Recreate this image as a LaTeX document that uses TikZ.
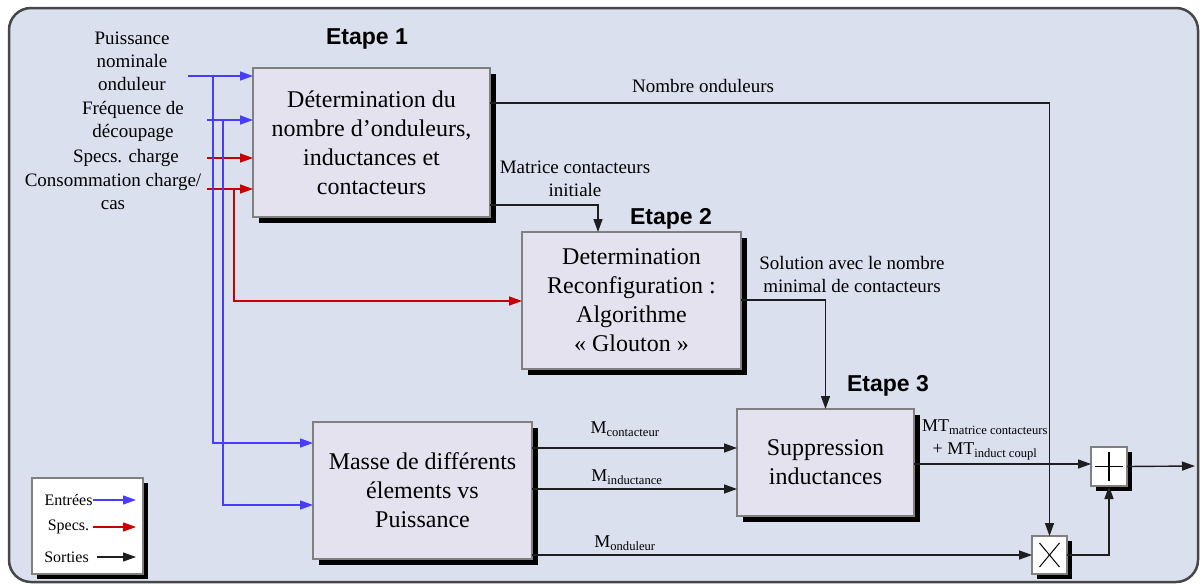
\documentclass[tikz,border=0pt]{standalone}
\usepackage{fontspec}
\setmainfont{Liberation Serif}
\newfontfamily\headfont{Liberation Sans}
\usetikzlibrary{arrows.meta,shadows}

\definecolor{panel}{RGB}{218,224,238}
\definecolor{boxfill}{RGB}{228,226,238}
\definecolor{inblue}{RGB}{72,60,255}
\definecolor{specred}{RGB}{200,0,0}
\definecolor{wirecol}{RGB}{30,30,30}

\tikzset{
  blockshadow/.style={drop shadow={shadow xshift=#1, shadow yshift=-#1, fill=black, opacity=1}},
  stage/.style={draw=black!50, line width=1.1pt, fill=boxfill, inner sep=0pt, outer sep=0pt,
    align=center, font=\fontsize{24}{29}\selectfont, blockshadow=6pt},
  opbox/.style={draw=black!50, line width=1.1pt, fill=white, inner sep=0pt, outer sep=0pt,
    minimum width=36pt, minimum height=39pt, blockshadow=5pt},
  lbl/.style={align=center, inner sep=0pt, font=\fontsize{19}{23}\selectfont},
  sublbl/.style={align=center, inner sep=0pt, font=\fontsize{18}{23}\selectfont},
  legtxt/.style={inner sep=0pt, font=\fontsize{16}{19}\selectfont},
  steplabel/.style={inner sep=0pt, font=\headfont\bfseries\fontsize{23}{27}\selectfont},
  tip/.style={-{Triangle[length=13pt,width=9pt]}},
  wire/.style={draw=wirecol, line width=1.4pt},
  inwire/.style={draw=inblue, line width=1.4pt},
  specwire/.style={draw=specred, line width=1.4pt},
}

\begin{document}
\begin{tikzpicture}[x=1pt, y=-1pt]
\useasboundingbox (0,0) rectangle (1203,584);

% panel
\draw[line width=2.5pt, draw=black!72, fill=panel, rounded corners=22pt] (9,8) rectangle (1198,582);

% processing blocks
\node[stage, minimum width=237pt, minimum height=149pt] (b1) at (371.5,142.5)
  {Détermination du\\nombre d’onduleurs,\\inductances et\\contacteurs};
\node[stage, minimum width=219pt, minimum height=137pt] (b2) at (631.5,300.5)
  {Determination\\Reconfiguration :\\Algorithme\\« Glouton »};
\node[stage, minimum width=219pt, minimum height=137pt] (b3) at (422.5,490.5)
  {Masse de différents\\élements vs\\Puissance};
\node[stage, minimum width=177pt, minimum height=107pt] (b4) at (825.5,462.5)
  {Suppression\\inductances};

% sum and product operators
\node[opbox] (add) at (1109,466.5) {};
\node[opbox, minimum width=35pt, minimum height=38pt] (mul) at (1049.5,555) {};
\draw[line width=1.2pt] ([xshift=-14pt]add.center) -- ([xshift=14pt]add.center);
\draw[line width=1.2pt] ([yshift=15pt]add.center) -- ([yshift=-14pt]add.center);
\draw[line width=1pt] ([shift={(-10pt,12pt)}]mul.center) -- ([shift={(10pt,-12pt)}]mul.center);
\draw[line width=1pt] ([shift={(-10pt,-12pt)}]mul.center) -- ([shift={(10pt,12pt)}]mul.center);

% step titles
\node[steplabel] (s1) at (367,39) {Etape 1};
\node[steplabel] (s2) at (671,219) {Etape 2};
\node[steplabel] (s3) at (888,386) {Etape 3};

% input labels
\node[lbl] (t1) at (132,61) {Puissance\\nominale\\onduleur};
\node[lbl] (t2) at (133,121.5) {Fréquence de\\découpage};
\node[lbl] (t3) at (126,158) {Specs. charge};
\node[lbl] (t4) at (113,191) {Consommation charge/\\cas};

% input wires
\coordinate (in1) at (188,76);
\coordinate (in2) at (207,120);
\coordinate (in3) at (207,158);
\coordinate (in4) at (207,189);
\coordinate (j1) at (213,76);
\coordinate (j2) at (223,120);
\coordinate (j3) at (234,189);
\draw[inwire, tip] (in1) -- (in1 -| b1.west);
\draw[inwire, tip] (in2) -- (in2 -| b1.west);
\draw[specwire, tip] (in3) -- (in3 -| b1.west);
\draw[specwire, tip] (in4) -- (in4 -| b1.west);
\draw[inwire, tip] (j1) |- (b3.west |- 0,443);
\draw[inwire, tip] (j2) |- (b3.west |- 0,505);
\draw[specwire, tip] (j3) |- (b2.west |- 0,301);

% signal flow
\draw[wire, tip] (b1.east |- 0,103) -| (mul.north);
\draw[wire, tip] (b1.east |- 0,205) -| (b2.north -| 598,0);
\draw[wire, tip] (b2.east |- 0,300) -| (b4.north);
\draw[wire, tip] (b3.east |- 0,448) -- (b4.west |- 0,448);
\draw[wire, tip] (b3.east |- 0,489) -- (b4.west |- 0,489);
\draw[wire, tip] (b3.east |- 0,555) -- (mul.west);
\draw[wire, tip] (b4.east |- 0,464) -- (add.west |- 0,464);
\draw[wire, tip] (mul.east) -| (add.south);
\coordinate (sink) at (1195,466);
\draw[wire, tip] (add.east) -- (sink);

% signal labels
\node[lbl] (nb) at (703,86) {Nombre onduleurs};
\node[lbl] (mc) at (575,179) {Matrice contacteurs\\initiale};
\node[lbl] (sol) at (852,274) {Solution avec le nombre\\minimal de contacteurs};
\node[sublbl] (mct) at (625,429) {M\textsubscript{contacteur}};
\node[sublbl] (mind) at (627,477) {M\textsubscript{inductance}};
\node[sublbl] (mond) at (625,543) {M\textsubscript{onduleur}};
\node[sublbl] (mt) at (985,440) {MT\textsubscript{matrice contacteurs}\\+ MT\textsubscript{induct coupl}};

% legend
\node[draw=black!50, line width=1.1pt, fill=white, inner sep=0pt, minimum width=111pt,
  minimum height=96pt, blockshadow=5pt] (legend) at (87.5,526) {};
\node[legtxt] (le1) at (68.5,500) {Entrées};
\node[legtxt] (le2) at (68.5,527) {Specs.};
\node[legtxt] (le3) at (66.5,557) {Sorties};
\coordinate (lt1) at (136,500);
\coordinate (lt2) at (136,527);
\coordinate (lt3) at (136,557);
\draw[inwire, line width=1.2pt, tip] (le1.east) -- (lt1);
\draw[specwire, line width=1.2pt, tip] ([xshift=4pt]le2.east) -- (lt2);
\draw[wire, line width=1.2pt, tip] ([xshift=8pt]le3.east) -- (lt3);
\end{tikzpicture}
\end{document}
